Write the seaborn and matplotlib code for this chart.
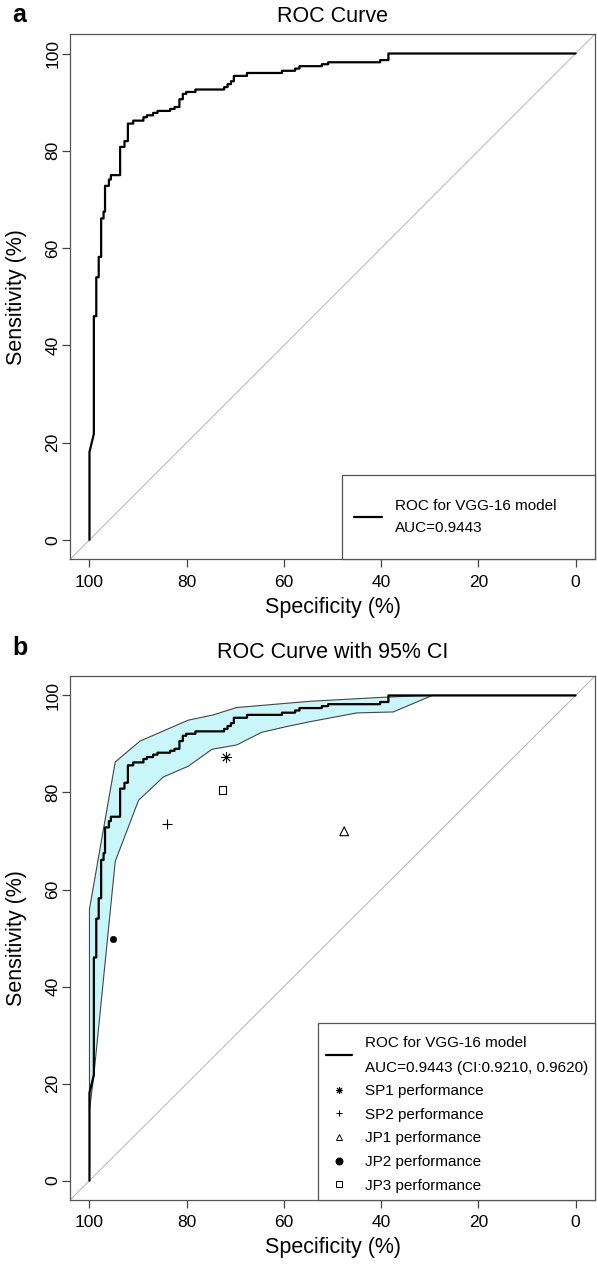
import matplotlib
matplotlib.use("Agg")
import matplotlib.pyplot as plt
from matplotlib.lines import Line2D
from matplotlib.patches import Rectangle
import seaborn as sns
import pandas as pd

# ROC curve vertices (specificity %, sensitivity %)
roc_spec = [100, 100, 99.1, 99.1, 98.6, 98.6, 98.1, 98.1, 97.6, 97.6, 97.1, 97.1,
            96.8, 96.8, 96.0, 96.0, 95.6, 95.6, 93.7, 93.7, 92.8, 92.8, 92.1, 92.1,
            91.0, 91.0, 88.9, 88.9, 88.2, 88.2, 86.9, 86.9, 86.0, 86.0, 83.4, 83.4,
            82.5, 82.5, 81.5, 81.5, 80.8, 80.8, 80.1, 80.1, 78.2, 78.2, 72.3, 72.3,
            71.6, 71.6, 70.9, 70.9, 70.3, 70.3, 67.6, 67.6, 60.4, 60.4, 57.7, 57.7,
            56.8, 56.8, 52.2, 52.2, 50.9, 50.9, 40.2, 40.2, 38.5, 38.5, 0]
roc_sens = [0, 18.1, 21.8, 46.0, 46.0, 54.0, 54.0, 58.2, 58.2, 66.1, 66.1, 67.5,
            67.5, 72.8, 72.8, 74.1, 74.1, 75.0, 75.0, 80.8, 80.8, 82.0, 82.0, 85.6,
            85.6, 86.2, 86.2, 86.9, 86.9, 87.3, 87.3, 87.8, 87.8, 88.2, 88.2, 88.6,
            88.6, 89.0, 89.0, 90.6, 90.6, 91.7, 91.7, 92.1, 92.1, 92.6, 92.6, 93.1,
            93.1, 93.7, 93.7, 94.3, 94.3, 95.4, 95.4, 96.0, 96.0, 96.45, 96.45, 96.9,
            96.9, 97.4, 97.4, 97.8, 97.8, 98.2, 98.2, 98.65, 98.65, 100, 100]

# 95% CI band edges
ci_up_spec = [100, 94.7, 89.6, 79.7, 74.5, 69.8, 54.6, 40.0, 31.0, 0]
ci_up_sens = [56.0, 86.3, 90.6, 94.9, 96.0, 97.5, 98.8, 99.6, 100, 100]
ci_lo_spec = [0, 29.5, 37.5, 45.0, 54.6, 59.4, 64.6, 69.7, 74.8, 79.7, 84.8, 89.9, 94.7, 99.1, 100]
ci_lo_sens = [100, 100, 96.6, 96.4, 94.6, 93.6, 92.4, 89.8, 88.9, 85.4, 83.2, 78.4, 65.8, 21.7, 14.5]

# reader performance points
readers = ["SP1", "SP2", "JP1", "JP2", "JP3"]
reader_spec = [72.0, 84.1, 47.6, 95.1, 72.7]
reader_sens = [87.4, 73.5, 72.0, 49.9, 80.5]

auc_label = "ROC for VGG-16 model\nAUC=0.9443"
auc_ci_label = "ROC for VGG-16 model\nAUC=0.9443 (CI:0.9210, 0.9620)"
ticks = [100, 80, 60, 40, 20, 0]

sns.set_style("ticks")
plt.rcParams['font.family'] = ['Liberation Sans', 'DejaVu Sans']
plt.rcParams.update({'text.color': 'black', 'axes.labelcolor': 'black',
                     'xtick.color': '#444444', 'ytick.color': '#444444',
                     'xtick.labelcolor': 'black', 'ytick.labelcolor': 'black'})

roc = pd.DataFrame({'spec': roc_spec, 'sens': roc_sens})

fig = plt.figure(figsize=(5.97, 12.66), dpi=100)
ax_a = fig.add_axes([0.1173, 0.5581, 0.8794, 0.4150])
ax_b = fig.add_axes([0.1173, 0.0521, 0.8794, 0.4139])

marker_style = {
    "SP1": dict(marker=(8, 2, 0), s=50, color='black', linewidth=0.6),
    "SP2": dict(marker='+', s=55, color='black', linewidth=0.8),
    "JP1": dict(marker='^', s=40, facecolor='none', edgecolor='black', linewidth=0.8),
    "JP2": dict(marker='o', s=22, color='black', edgecolor='black'),
    "JP3": dict(marker='s', s=28, facecolor='none', edgecolor='black', linewidth=0.8),
}


def style_axes(ax, title, title_pad):
    ax.set_xlim(104, -4)
    ax.set_ylim(-4, 104)
    ax.axline((0, 100), (100, 0), color='#bdbdbd', lw=0.8, zorder=1)
    ax.set_xticks(ticks)
    ax.set_yticks(ticks)
    ax.tick_params(length=6, width=0.9, labelsize=12.5)
    ax.tick_params(axis='x', pad=5)
    ax.tick_params(axis='y', pad=1)
    plt.setp(ax.get_yticklabels(), rotation=90, va='center')
    for sp in ax.spines.values():
        sp.set_color('#555555')
        sp.set_linewidth(0.9)
    ax.set_xlabel("Specificity (%)", fontsize=15.5, labelpad=5)
    ax.set_ylabel("Sensitivity (%)", fontsize=15.5, labelpad=13)
    ax.set_title(title, fontsize=15.5, pad=title_pad)


def legend_frame(ax, x0, top):
    ax.add_patch(Rectangle((x0, 0), 1 - x0, top, transform=ax.transAxes, facecolor='white',
                           edgecolor='#555555', lw=0.9, zorder=5, clip_on=False))


# panel a
style_axes(ax_a, "ROC Curve", 9)
sns.lineplot(data=roc, x='spec', y='sens', sort=False, estimator=None,
             color='black', lw=1.6, ax=ax_a, zorder=3)
legend_frame(ax_a, 0.518, 0.161)
leg = ax_a.legend([Line2D([], [], color='black', lw=1.6)], [auc_label],
                  loc='center left', bbox_to_anchor=(0.541, 0.081), borderaxespad=0,
                  borderpad=0, frameon=False, fontsize=11, handlelength=1.8,
                  handletextpad=0.9)
leg.set_zorder(6)
for t in leg.get_texts():
    t.set_linespacing(1.75)

# panel b
style_axes(ax_b, "ROC Curve with 95% CI", 13)
band_x = ci_up_spec + ci_lo_spec
band_y = ci_up_sens + ci_lo_sens
ax_b.fill(band_x, band_y, facecolor='#c9f7f9', edgecolor='#444444', lw=0.8, zorder=2)
sns.lineplot(data=roc, x='spec', y='sens', sort=False, estimator=None,
             color='black', lw=1.6, ax=ax_b, zorder=3)
for name, xs, ys in zip(readers, reader_spec, reader_sens):
    sns.scatterplot(x=[xs], y=[ys], ax=ax_b, zorder=4, **marker_style[name])
ax_b.set_xlabel("Specificity (%)", fontsize=15.5, labelpad=5)
ax_b.set_ylabel("Sensitivity (%)", fontsize=15.5, labelpad=13)

handles = [Line2D([], [], color='black', lw=1.6)]
labels = [auc_ci_label]
for name in readers:
    st = marker_style[name]
    fc = st.get('facecolor', 'black')
    handles.append(Line2D([], [], linestyle='none', marker=st['marker'], markersize=5,
                          markerfacecolor=fc, markeredgecolor='black', markeredgewidth=0.7,
                          color='black'))
    labels.append(name + " performance")
legend_frame(ax_b, 0.4724, 0.338)
leg = ax_b.legend(handles, labels, loc='center left', bbox_to_anchor=(0.4876, 0.164),
                  borderaxespad=0, borderpad=0, frameon=False, fontsize=11,
                  handlelength=1.7, handletextpad=0.85, labelspacing=0.63)
leg.set_zorder(6)
for t in leg.get_texts():
    t.set_linespacing(2.0)

fig.text(0.02, 0.988, "a", fontsize=18, fontweight='bold', va='center')
fig.text(0.02, 0.488, "b", fontsize=18, fontweight='bold', va='center')

plt.savefig('out.png', dpi=100)
